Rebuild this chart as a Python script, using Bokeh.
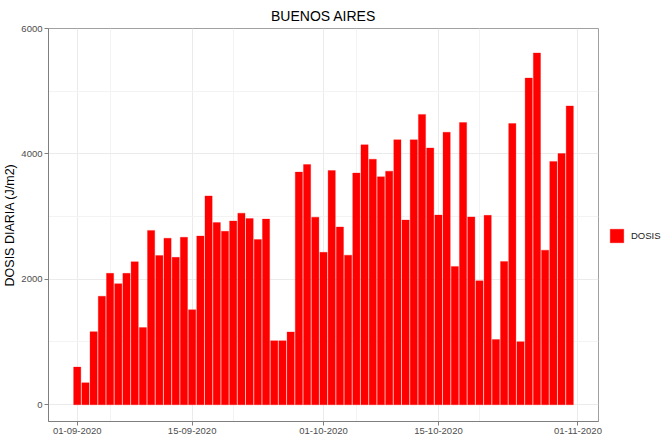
import pandas as pd
from bokeh.plotting import figure
from bokeh.models import (Range1d, FixedTicker, DatetimeTickFormatter, Legend, LegendItem,
                          ColumnDataSource)
from bokeh.embed import file_html
from bokeh.resources import INLINE

# ---- data ----
title_text = "BUENOS AIRES"
y_label = "DOSIS DIARIA (J/m2)"
series_name = "DOSIS"
start_date = "2020-09-01"
end_date = "2020-10-31"
dosis_sep = [600, 350, 1165, 1730, 2095, 1930, 2095, 2280, 1230, 2780,
             2380, 2655, 2350, 2670, 1515, 2690, 3330, 2905, 2765, 2930,
             3055, 2970, 2635, 2960, 1020, 1020, 1160, 3710, 3830, 2990]
dosis_oct = [2430, 3735, 2835, 2385, 3695, 4145, 3915, 3635, 3725, 4225,
             2945, 4225, 4630, 4095, 3025, 4345, 2205, 4500, 2995, 1975,
             3020, 1040, 2285, 4485, 1005, 5210, 5610, 2465, 3880, 4005, 4765]
x_major_dates = ["2020-09-01", "2020-09-15", "2020-10-01", "2020-10-15", "2020-11-01"]
x_minor_dates = ["2020-09-05", "2020-09-20", "2020-10-05", "2020-10-20"]
y_major = [0, 2000, 4000, 6000]
y_minor = [1000, 3000, 5000]

DAY = 86400000.0


def ms(s):
    return float((pd.Timestamp(s) - pd.Timestamp("1970-01-01")) // pd.Timedelta(milliseconds=1))


dates = pd.date_range(start_date, end_date, freq="D")
values = dosis_sep + dosis_oct
src = ColumnDataSource(dict(x=dates, top=values))

FONT = "Liberation Sans"

p = figure(frame_width=550, frame_height=393, output_backend="svg", toolbar_location=None,
           x_axis_type="datetime",
           x_range=Range1d(ms(x_major_dates[0]) - 3.5 * DAY, ms(x_major_dates[-1]) + 2.5 * DAY),
           y_range=Range1d(-268, 6000),
           min_border_left=0, min_border_right=0, min_border_top=0, min_border_bottom=0)

r = p.vbar(x="x", top="top", bottom=0, width=0.88 * DAY, source=src,
           fill_color="#FF0000", line_color="#FF0000", line_width=0.3)

# title
p.title.text = title_text
p.title.align = "center"
p.title.text_font = FONT
p.title.text_font_size = "14px"
p.title.text_font_style = "normal"
p.title.text_color = "#000000"
p.title.offset = 0
p.title.standoff = 10

# axes
xt = FixedTicker(ticks=[ms(d) for d in x_major_dates], minor_ticks=[ms(d) for d in x_minor_dates])
p.xaxis.ticker = xt
fmt = "%d-%m-%Y"
p.xaxis.formatter = DatetimeTickFormatter(days=fmt, months=fmt, years=fmt, hours=fmt,
                                          hourmin=fmt, minutes=fmt, minsec=fmt,
                                          seconds=fmt, milliseconds=fmt, microseconds=fmt)
p.yaxis.ticker = FixedTicker(ticks=y_major, minor_ticks=y_minor)

for ax in (p.xaxis[0], p.yaxis[0]):
    ax.axis_line_color = "#7f7f7f"
    ax.major_tick_line_color = "#7f7f7f"
    ax.major_tick_out = 4
    ax.major_tick_in = 0
    ax.minor_tick_line_color = None
    ax.major_label_text_font = FONT
    ax.major_label_text_font_size = "9.5px"
    ax.major_label_text_color = "#4d4d4d"
    ax.major_label_standoff = 2

p.yaxis.axis_label = y_label
p.yaxis.axis_label_text_font = FONT
p.yaxis.axis_label_text_font_size = "12.5px"
p.yaxis.axis_label_text_font_style = "normal"
p.yaxis.axis_label_text_color = "#000000"
p.yaxis.axis_label_standoff = 1

# grid
for g in (p.xgrid[0], p.ygrid[0]):
    g.grid_line_color = "#ebebeb"
    g.grid_line_width = 1
    g.minor_grid_line_color = "#f3f3f3"
    g.minor_grid_line_width = 1

p.outline_line_color = "#a0a0a0"
p.outline_line_width = 1
p.background_fill_color = "white"
p.border_fill_color = "white"

legend = Legend(items=[LegendItem(label=series_name, renderers=[r])],
                location=(10, 177), orientation="vertical")
legend.glyph_width = 17
legend.glyph_height = 17
legend.label_text_font = FONT
legend.label_text_font_size = "9.5px"
legend.label_text_color = "#1a1a1a"
legend.label_standoff = 6
legend.padding = 0
legend.margin = 8
legend.spacing = 0
legend.border_line_color = None
legend.background_fill_alpha = 0
p.add_layout(legend, "right")

open("out.html", "w").write(file_html(p, INLINE))
